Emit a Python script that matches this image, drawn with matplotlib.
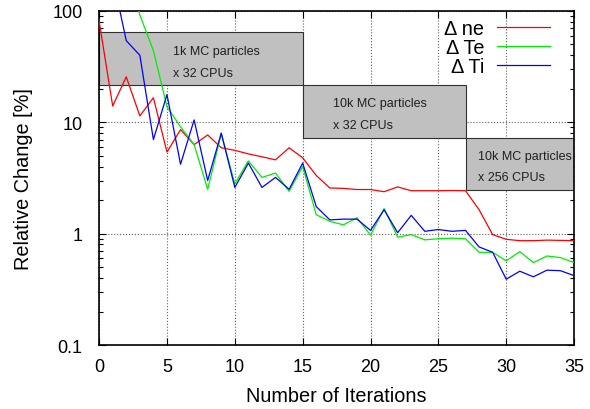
import matplotlib
matplotlib.use("Agg")
import matplotlib.pyplot as plt
from matplotlib.patches import Rectangle
from matplotlib.ticker import FixedLocator, LogLocator, NullFormatter, FuncFormatter

plt.rcParams['font.family'] = ['Liberation Sans', 'DejaVu Sans']

iterations = list(range(36))
d_ne = [81, 14, 25.6, 11.4, 16.6, 5.4, 8.6, 6.3, 7.7, 5.9, 5.6, 5.2, 4.9, 4.6, 5.9, 4.8,
        3.33, 2.57, 2.55, 2.49, 2.49, 2.38, 2.63, 2.43, 2.43, 2.43, 2.44, 2.43, 1.64, 0.98,
        0.89, 0.865, 0.865, 0.875, 0.87, 0.865]
d_te = [500, 400, 250, 92, 44, 13.8, 9.1, 6.3, 2.5, 7.9, 2.8, 4.5, 3.2, 3.5, 2.4, 4.0,
        1.48, 1.29, 1.2, 1.39, 0.97, 1.68, 0.93, 0.98, 0.88, 0.9, 0.91, 0.9, 0.68, 0.68,
        0.57, 0.69, 0.55, 0.63, 0.61, 0.55]
d_ti = [300, 200, 54, 40, 7.0, 17.7, 4.2, 10.5, 3.0, 8.0, 2.6, 4.3, 2.6, 3.2, 2.5, 4.3,
        1.75, 1.33, 1.35, 1.35, 1.07, 1.64, 1.02, 1.46, 1.05, 1.09, 1.05, 1.07, 0.76, 0.68,
        0.39, 0.46, 0.41, 0.47, 0.465, 0.42]

boxes = [(0, 15, 21.7, 65), (15, 27, 7.2, 21.7), (27, 35, 2.48, 7.2)]
box_texts = [("1k MC particles", "x 32 CPUs"), ("10k MC particles", "x 32 CPUs"),
             ("10k MC particles", "x 256 CPUs")]
text_pos = [(5.45, 43.8, 27.8), (17.2, 15.0, 9.5), (27.9, 5.0, 3.2)]

fig = plt.figure(figsize=(5.9, 4.1), dpi=100)
ax = fig.add_axes([0.168, 0.156, 0.805, 0.815])

ax.set_yscale('log')
ax.set_xlim(0, 35)
ax.set_ylim(0.1, 100)

for (x0, x1, y0, y1) in boxes:
    ax.add_patch(Rectangle((x0, y0), x1 - x0, y1 - y0, facecolor='#c0c0c0',
                           edgecolor='#303030', linewidth=0.8, zorder=2))
for (l1, l2), (tx, ty1, ty2) in zip(box_texts, text_pos):
    ax.text(tx, ty1, l1, fontsize=9, va='center', ha='left', zorder=3, color='#202020')
    ax.text(tx, ty2, l2, fontsize=9, va='center', ha='left', zorder=3, color='#202020')

ax.plot(iterations, d_ne, color='#ff0000', lw=0.9, label='Δ ne', zorder=4)
ax.plot(iterations, d_te, color='#00ee00', lw=0.9, label='Δ Te', zorder=4)
ax.plot(iterations, d_ti, color='#0000ff', lw=0.9, label='Δ Ti', zorder=4)

ax.xaxis.set_major_locator(FixedLocator([0, 5, 10, 15, 20, 25, 30, 35]))
ax.yaxis.set_major_locator(FixedLocator([0.1, 1, 10, 100]))
ax.yaxis.set_minor_locator(LogLocator(base=10, subs=range(2, 10)))
ax.yaxis.set_minor_formatter(NullFormatter())
ax.yaxis.set_major_formatter(FuncFormatter(lambda v, p: '%g' % v))

ax.tick_params(which='both', direction='in', top=True, right=True, labelsize=13)
ax.tick_params(which='major', length=5, width=0.8)
ax.tick_params(which='minor', length=3, width=0.8)
ax.tick_params(axis='x', pad=9)
ax.tick_params(axis='y', pad=12)
ax.grid(True, which='major', linestyle=':', color='#606060', linewidth=0.8, zorder=1)
ax.set_axisbelow(True)
for s in ax.spines.values():
    s.set_linewidth(1.2)

ax.set_xlabel('Number of Iterations', fontsize=14.3, labelpad=8)
ax.set_ylabel('Relative Change [%]', fontsize=14.3, labelpad=14)

leg = ax.legend(loc='upper right', bbox_to_anchor=(0.966, 1.0), frameon=False,
                markerfirst=False, fontsize=14.3, handlelength=2.67, labelspacing=0.0,
                borderaxespad=0.0, handletextpad=0.65)
for t in leg.get_texts():
    t.set_ha('right')
leg.set_zorder(5)

fig.savefig('out.png', dpi=100)
